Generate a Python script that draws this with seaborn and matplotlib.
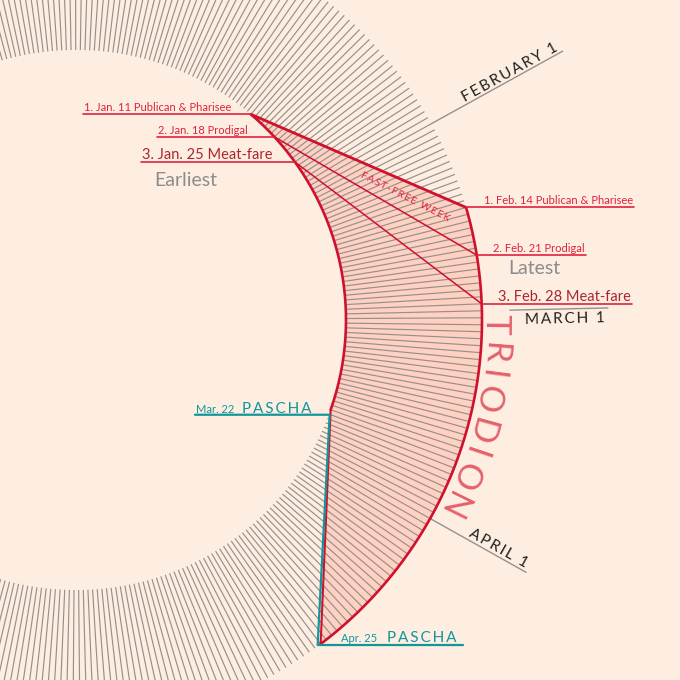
import numpy as np
import pandas as pd
import seaborn as sns
import matplotlib.pyplot as plt
from matplotlib.collections import LineCollection
from matplotlib.textpath import TextPath
from matplotlib.font_manager import FontProperties

# calendar data
year_days = pd.date_range("2015-01-01", "2015-12-31", freq="D")
sunday_names = ["Publican & Pharisee", "Prodigal", "Meat-fare"]
earliest_sundays = pd.to_datetime(["2015-01-11", "2015-01-18", "2015-01-25"])
latest_sundays = pd.to_datetime(["2015-02-14", "2015-02-21", "2015-02-28"])
pascha_dates = pd.to_datetime(["2015-03-22", "2015-04-25"])
month_dates = pd.to_datetime(["2015-02-01", "2015-03-01", "2015-04-01"])
month_names = ["FEBRUARY 1", "MARCH 1", "APRIL 1"]

BG = "#feeee1"
GRAY = "#96908d"
RED = "#d0102c"
LABEL_RED = "#e0213d"
DARK_RED = "#a9262f"
TEAL = "#11969b"

# circle layout (pixel space)
CX, CY = 76, 320
R_IN, R_OUT = 270, 406
A0 = 1.3
MAR1 = pd.Timestamp("2015-03-01").dayofyear


def ang(d):
    return np.deg2rad(A0 - (d.dayofyear - MAR1) * 360 / 365)


def pt(d, r):
    a = ang(d)
    return CX + r * np.cos(a), CY - r * np.sin(a)


def arc(d1, d2, r, n=150):
    a = np.linspace(ang(d1), ang(d2), n)
    return CX + r * np.cos(a), CY - r * np.sin(a)


def spaced(s):
    return "\u2009".join(s)


sns.set_theme(style="white", rc={"axes.facecolor": BG, "figure.facecolor": BG})
plt.rcParams['font.family'] = ['Lato', 'DejaVu Sans']

fig = plt.figure(figsize=(6.8, 6.8), dpi=100)
ax = fig.add_axes([0, 0, 1, 1])
ax.set_xlim(0, 680)
ax.set_ylim(680, 0)
ax.axis("off")

# triodion area
xi, yi = arc(earliest_sundays[0], pascha_dates[0], R_IN)
xo, yo = arc(pascha_dates[1], latest_sundays[0], R_OUT)
poly_x = np.concatenate([xi, xo, xi[:1]])
poly_y = np.concatenate([yi, yo, yi[:1]])
ax.fill(poly_x, poly_y, color="#ff9a8a", alpha=0.34, lw=0, zorder=1)

# one tick per day
segs = [[pt(d, R_IN), pt(d, R_OUT)] for d in year_days]
ax.add_collection(LineCollection(segs, colors=GRAY, linewidths=0.85, zorder=2))

# boundary
ax.plot(xi, yi, color=RED, lw=1.9, zorder=4)
ax.plot(xo, yo, color=RED, lw=1.9, zorder=4)
p_m = pt(pascha_dates[0], R_IN)
p_a = pt(pascha_dates[1], R_OUT)
ax.plot([p_m[0], p_a[0]], [p_m[1], p_a[1]], color=RED, lw=1.5, zorder=4)

# sunday lines and labels
left_start = [83, 157, 141]
right_end = [634, 586, 632]
lab_size = [8, 8, 10.5]
lab_col = [LABEL_RED, LABEL_RED, DARK_RED]
for i in range(3):
    e = pt(earliest_sundays[i], R_IN)
    l = pt(latest_sundays[i], R_OUT)
    ax.plot([e[0], l[0]], [e[1], l[1]], color=RED, lw=2.0 if i == 0 else 1.1, zorder=4)
    ax.plot([left_start[i], e[0]], [e[1], e[1]], color=LABEL_RED, lw=1.2, zorder=4)
    ax.plot([l[0], right_end[i]], [l[1], l[1]], color=LABEL_RED, lw=1.2, zorder=4)
    d = earliest_sundays[i]
    ax.text(left_start[i] + 1, e[1] - 3, f"{i + 1}. {d.strftime('%b')}. {d.day} {sunday_names[i]}",
            color=lab_col[i], fontsize=lab_size[i], ha="left", va="baseline", zorder=5)
    d = latest_sundays[i]
    ax.text(right_end[i] - 1, l[1] - 3, f"{i + 1}. {d.strftime('%b')}. {d.day} {sunday_names[i]}",
            color=lab_col[i], fontsize=lab_size[i], ha="right", va="baseline", zorder=5)

e3 = pt(earliest_sundays[2], R_IN)
ax.text(154, e3[1] + 19, "Earliest", color="#8c8c8c", fontsize=14, ha="left", va="center")
l2 = pt(latest_sundays[1], R_OUT)
ax.text(508, l2[1] + 13, "Latest", color="#8c8c8c", fontsize=14, ha="left", va="center")

# fast-free week between first and second sunday lines
s1 = np.add(pt(earliest_sundays[0], R_IN), pt(earliest_sundays[1], R_IN)) / 2
s2 = np.add(pt(latest_sundays[0], R_OUT), pt(latest_sundays[1], R_OUT)) / 2
fx, fy = s1 + 0.68 * (s2 - s1)
rot = np.degrees(np.arctan2(-(s2[1] - s1[1]), s2[0] - s1[0]))
ax.text(fx, fy, spaced("FAST-FREE WEEK"), color=LABEL_RED, fontsize=7.3, rotation=rot,
        rotation_mode="anchor", ha="center", va="center", zorder=5)

# pascha
ax.plot([195, p_m[0] - 1, p_a[0] - 3, 463], [p_m[1] + 5, p_m[1] + 5, p_a[1] + 1, p_a[1] + 1],
        color=TEAL, lw=1.6, zorder=5)
ax.text(196, p_m[1] + 3, "Mar. 22", color=TEAL, fontsize=8, ha="left", va="baseline")
ax.text(242, p_m[1] + 3, spaced("PASCHA"), color=TEAL, fontsize=11, ha="left", va="baseline")
ax.text(p_a[0] + 20, p_a[1] - 2, "Apr. 25", color=TEAL, fontsize=8, ha="left", va="baseline")
ax.text(p_a[0] + 66, p_a[1] - 2, spaced("PASCHA"), color=TEAL, fontsize=11, ha="left", va="baseline")

# month markers
month_r = [(R_OUT, 556), (434, 532), (R_OUT, 516)]
for d, name, (r0, r1) in zip(month_dates, month_names, month_r):
    a = ang(d)
    p0, p1 = pt(d, r0), pt(d, r1)
    ax.plot([p0[0], p1[0]], [p0[1], p1[1]], color=GRAY, lw=1.0, zorder=3)
    below = name.startswith("MARCH")
    side = -1 if below else 1
    tx = p1[0] - 3 * np.cos(a) - side * 3 * np.sin(a)
    ty = p1[1] + 3 * np.sin(a) - side * 3 * np.cos(a)
    ax.text(tx, ty, spaced(name), color="#222222", fontsize=11, rotation=np.degrees(a),
            rotation_mode="anchor", ha="right", va="top" if below else "baseline", zorder=5)

# TRIODION along the outer arc
fs = 25
fp = FontProperties(family="Lato", weight="normal", size=fs)
word = "TRIODION"
widths = [TextPath((0, 0), c, size=fs, prop=fp).get_extents().width * 100 / 72 for c in word]
track = 10.5
r_mid = 422
s = 0.0
a_start = -0.6
for k, c in enumerate(word):
    if k > 0:
        s += widths[k - 1] / 2 + track + widths[k] / 2
    a = np.deg2rad(a_start) - s / r_mid
    x = CX + 409 * np.cos(a)
    y = CY - 409 * np.sin(a)
    ax.text(x, y, c, color="#e5606b", fontproperties=fp, rotation=np.degrees(a) - 90,
            rotation_mode="anchor", ha="center", va="baseline", zorder=5)

fig.savefig("out.png", dpi=100, facecolor=BG)
